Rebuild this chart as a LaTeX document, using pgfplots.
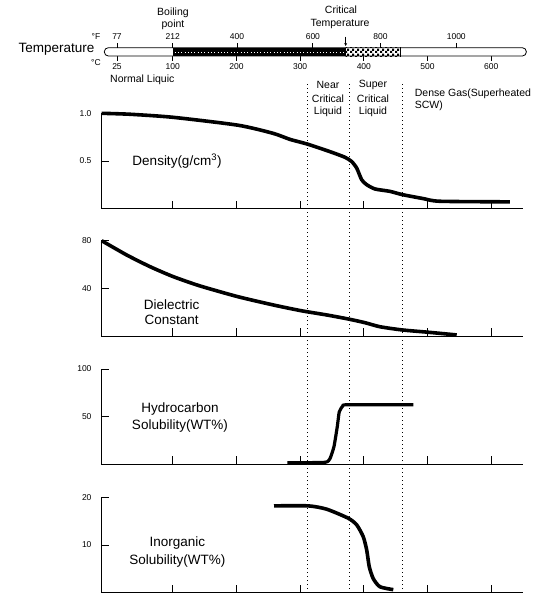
\documentclass[border=0pt]{standalone}
\usepackage{fontspec}
\setmainfont{Liberation Sans}
\usepackage{pgfplots}
\pgfplotsset{compat=1.18}
\usetikzlibrary{patterns,arrows.meta}

\pgfdeclarepatternformonly{finechecker}{\pgfpointorigin}{\pgfqpoint{5pt}{5pt}}{\pgfqpoint{5pt}{5pt}}{%
 \pgfpathrectangle{\pgfpointorigin}{\pgfqpoint{2.5pt}{2.5pt}}%
 \pgfpathrectangle{\pgfqpoint{2.5pt}{2.5pt}}{\pgfqpoint{2.5pt}{2.5pt}}%
 \pgfusepath{fill}}

\pgfplotsset{
 panel/.style={
   scale only axis, width=422.3pt, height=95.2pt,
   xmin=-12.5, xmax=650.2, ymin=0,
   axis x line*=bottom, axis y line*=left,
   axis line style={-, line width=0.8pt},
   tick align=inside, major tick length=8pt,
   tick style={black, line width=0.8pt},
   xtick={100,200,300,400,500,600}, xticklabels={{},{},{},{},{},{}},
   ticklabel style={font=\fontsize{8.5}{10}\selectfont},
   yticklabel style={xshift=-6pt},
   /pgf/number format/assume math mode=true,
   clip=false, anchor=south west,
 },
 curve/.style={black, line width=3.6pt, smooth, tension=0.4},
 tbar/.style={
   scale only axis, width=422.3pt, height=8.3pt,
   xmin=-12.5, xmax=650.2, ymin=0, ymax=1,
   at={(101pt,-56pt)}, anchor=south west, clip=false,
   axis line style={draw=none}, ytick=\empty,
   tick align=outside, major tick length=4.5pt,
   tick style={black, line width=0.8pt},
   ticklabel style={font=\fontsize{8.5}{10}\selectfont},
   /pgf/number format/assume math mode=true,
 },
}

\begin{document}
\begin{tikzpicture}
\useasboundingbox (0,0) rectangle (553pt,-598pt);

% dotted region guides
\begin{axis}[scale only axis, width=422.3pt, height=510.5pt,
  xmin=-12.5, xmax=650.2, ymin=0, ymax=1, hide axis,
  at={(101pt,-592.5pt)}, anchor=south west, clip=false]
\addplot[black, line width=0.8pt, dash pattern=on 0.8pt off 3.2pt] coordinates {(311.2,0) (311.2,1)};
\addplot[black, line width=0.8pt, dash pattern=on 0.8pt off 3.2pt] coordinates {(377.8,0) (377.8,1)};
\addplot[black, line width=0.8pt, dash pattern=on 0.8pt off 3.2pt] coordinates {(460.3,0) (460.3,1)};
\end{axis}

% temperature bar (deg C ticks below)
\begin{axis}[tbar, xtick pos=bottom, xticklabel pos=bottom,
  xtick={12.6,100,200,300,400,500,600},
  xticklabels={25,100,200,300,400,500,600}]
\addplot[draw=none, fill=white, rounded corners=4pt] coordinates {(-7.3,0) (655,0) (655,1) (-7.3,1)} -- cycle;
\addplot[draw=none, fill=black] coordinates {(101,0) (371.5,0) (371.5,1) (101,1)} -- cycle;
\addplot[draw=none, fill=white] coordinates {(371.5,0) (458,0) (458,1) (371.5,1)} -- cycle;
\addplot[draw=none, pattern=finechecker, pattern color=black] coordinates {(371.5,0) (458,0) (458,1) (371.5,1)} -- cycle;
\addplot[white, line width=0.7pt, dash pattern=on 0.7pt off 2.6pt] coordinates {(103,0.5) (370,0.5)};
\addplot[black, line width=0.8pt] coordinates {(458,0) (458,1)};
\addplot[black, line width=0.8pt, rounded corners=4pt] coordinates {(-7.3,0) (655,0) (655,1) (-7.3,1)} -- cycle;
\end{axis}
% deg F ticks above
\begin{axis}[tbar, xtick pos=top, xticklabel pos=top,
  xtick={12.6,100,201,320,426,545},
  xticklabels={77,212,400,600,800,1000}]
\end{axis}

% Density
\begin{axis}[panel, at={(101pt,-208.5pt)}, ymax=1, ytick={0.5,1}, yticklabels={0.5,1.0}]
\addplot[curve] coordinates {
(-11.4,1.0) (33,0.99) (100.5,0.958) (202.5,0.875) (257.4,0.79) (284.1,0.726)
(311.2,0.677) (346.9,0.597) (370.4,0.538) (380.9,0.493) (388.8,0.424)
(396.6,0.302) (404.5,0.25) (417.5,0.205) (441.0,0.18) (460.3,0.146)
(493.3,0.104) (519.5,0.076) (629.3,0.07)};
\end{axis}

% Dielectric constant
\begin{axis}[panel, at={(101pt,-335.9pt)}, ymax=80, ytick={40,80}]
\addplot[curve] coordinates {
(-11.4,80) (27.8,68) (64.4,58.2) (100.9,49.8) (142.8,42) (202,33) (257.9,26)
(301.3,21.2) (341.7,17.6) (375.6,14.2) (401.8,11.1) (425.3,7.7) (460.3,5)
(502.7,3.0) (545.7,0.8)};
\end{axis}

% Hydrocarbon solubility
\begin{axis}[panel, at={(101pt,-464.2pt)}, ymax=100, ytick={50,100}]
\addplot[black, line width=3.2pt, smooth, tension=0.3] coordinates {
(279.8,1.5) (339.0,2) (346.9,6) (353.1,18.5) (358.3,39.5) (361.4,55)
(366.8,61) (374.0,62.5) (477.6,62.5)};
\end{axis}

% Inorganic solubility
\begin{axis}[panel, at={(101pt,-592.5pt)}, ymax=20, ytick={10,20}]
\addplot[curve] coordinates {
(259,18.2) (312.8,18.2) (341.7,17.5) (375.6,15.6) (388.8,14.2) (399.1,11.7)
(404.5,8.9) (408.5,5.4) (414.8,2.9) (425.3,1.2) (446.2,0.6)};
\end{axis}

% texts
\node[font=\fontsize{13.5}{16}\selectfont] at (56.5pt,-49pt) {Temperature};
\node[font=\fontsize{8.5}{10}\selectfont] at (96pt,-37pt) {°F};
\node[font=\fontsize{8.5}{10}\selectfont] at (96pt,-63pt) {°C};
\begin{scope}[every node/.style={font=\fontsize{10.5}{12}\selectfont}]
\node at (173pt,-12.7pt) {Boiling};
\node at (173pt,-25pt) {point};
\node at (341pt,-10pt) {Critical};
\node at (340pt,-24pt) {Temperature};
\node[anchor=west] at (106.7pt,-80pt) {Normal Liquic};
\node at (328pt,-85pt) {Near};
\node at (328pt,-98.3pt) {Critical};
\node at (328pt,-111.7pt) {Liquid};
\node at (373pt,-85pt) {Super};
\node at (373pt,-98.3pt) {Critical};
\node at (373pt,-111.7pt) {Liquid};
\node[anchor=west] at (411.3pt,-93.3pt) {Dense Gas(Superheated};
\node[anchor=west] at (411.3pt,-106pt) {SCW)};
\end{scope}
\draw[-{Stealth[length=3pt,width=3pt]}, line width=0.6pt] (345.7pt,-36.7pt) -- (345.7pt,-46pt);
\begin{scope}[every node/.style={font=\fontsize{13.5}{15}\selectfont}]
\node at (177pt,-161pt) {Density(g/cm\textsuperscript{3})};
\node at (171.7pt,-304.3pt) {Dielectric};
\node at (171.7pt,-320pt) {Constant};
\node at (180pt,-409.3pt) {Hydrocarbon};
\node at (180pt,-426pt) {Solubility(WT\%)};
\node at (177.3pt,-543.3pt) {Inorganic};
\node at (177.3pt,-560.7pt) {Solubility(WT\%)};
\end{scope}
\end{tikzpicture}
\end{document}
